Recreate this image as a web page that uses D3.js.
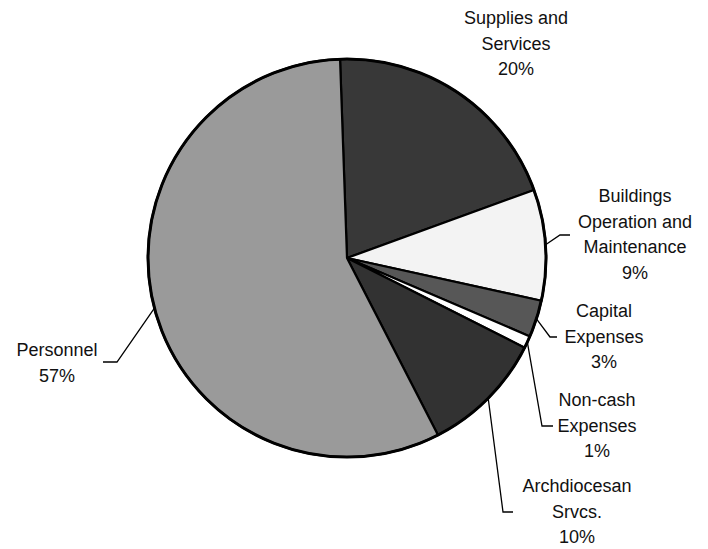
<!DOCTYPE html>
<html>
<head>
<meta charset="utf-8">
<script src="https://cdn.jsdelivr.net/npm/d3@7"></script>
<style>
  body { margin: 0; background: #fff; }
  text { font-family: "Liberation Sans", Arial, sans-serif; font-size: 18px; fill: #111; }
</style>
</head>
<body>
<script>
// chart data
let categories = ["Supplies and Services", "Buildings Operation and Maintenance", "Capital Expenses", "Non-cash Expenses", "Archdiocesan Srvcs.", "Personnel"];
let values = [20, 9, 3, 1, 10, 57];
let labelLines = [["Supplies and", "Services", "20%"]
    , ["Buildings", "Operation and", "Maintenance", "9%"]
    , ["Capital", "Expenses", "3%"]
    , ["Non-cash", "Expenses", "1%"]
    , ["Archdiocesan", "Srvcs.", "10%"]
    , ["Personnel", "57%"]];

// layout (label spots and leader elbows)
let fills = ["#383838", "#f3f3f3", "#575757", "#ffffff", "#323232", "#9a9a9a"];
let labelPos = [
    {x: 516, y: 18, leader: null},
    {x: 635, y: 196, leader: [[560, 235], [570, 235]]},
    {x: 604, y: 311, leader: [[550, 337], [557, 337]]},
    {x: 597, y: 400, leader: [[542, 426], [553, 426]]},
    {x: 577, y: 486, leader: [[503, 512], [513, 512]]},
    {x: 57, y: 350, leader: [[117, 362], [103, 362]]}
];

let width = 708, height = 549;
let cx = 347, cy = 258, r = 199;
let lineH = 25.5;

let svg = d3.select("body").append("svg")
    .attr("width", width)
    .attr("height", height);

let pie = d3.pie().sort(null).value(d => d)
    .startAngle(-2 * Math.PI / 180)
    .endAngle(2 * Math.PI - 2 * Math.PI / 180);
let arcs = pie(values);

let arc = d3.arc().innerRadius(0).outerRadius(r);
let edge = d3.arc().innerRadius(r).outerRadius(r);

let g = svg.append("g").attr("transform", "translate(" + cx + "," + cy + ")");

g.selectAll("path.slice")
    .data(arcs)
    .join("path")
    .attr("class", "slice")
    .attr("d", arc)
    .attr("fill", (d, i) => fills[i])
    .attr("stroke", "#000")
    .attr("stroke-width", 2.2)
    .attr("stroke-linejoin", "round");

g.append("circle")
    .attr("r", r)
    .attr("fill", "none")
    .attr("stroke", "#000")
    .attr("stroke-width", 3);

// leader lines
let line = d3.line();
arcs.forEach((d, i) => {
    let p = labelPos[i];
    if (!p.leader) return;
    let s = edge.centroid(d);
    let pts = [[s[0] + cx, s[1] + cy]].concat(p.leader);
    svg.append("path")
        .attr("d", line(pts))
        .attr("fill", "none")
        .attr("stroke", "#000")
        .attr("stroke-width", 1.3);
});

// labels
labelLines.forEach((lines, i) => {
    let p = labelPos[i];
    let t = svg.append("text")
        .attr("text-anchor", "middle");
    lines.forEach((l, j) => {
        t.append("tspan")
            .attr("x", p.x)
            .attr("y", p.y + j * lineH + 6)
            .text(l);
    });
});
</script>
</body>
</html>
